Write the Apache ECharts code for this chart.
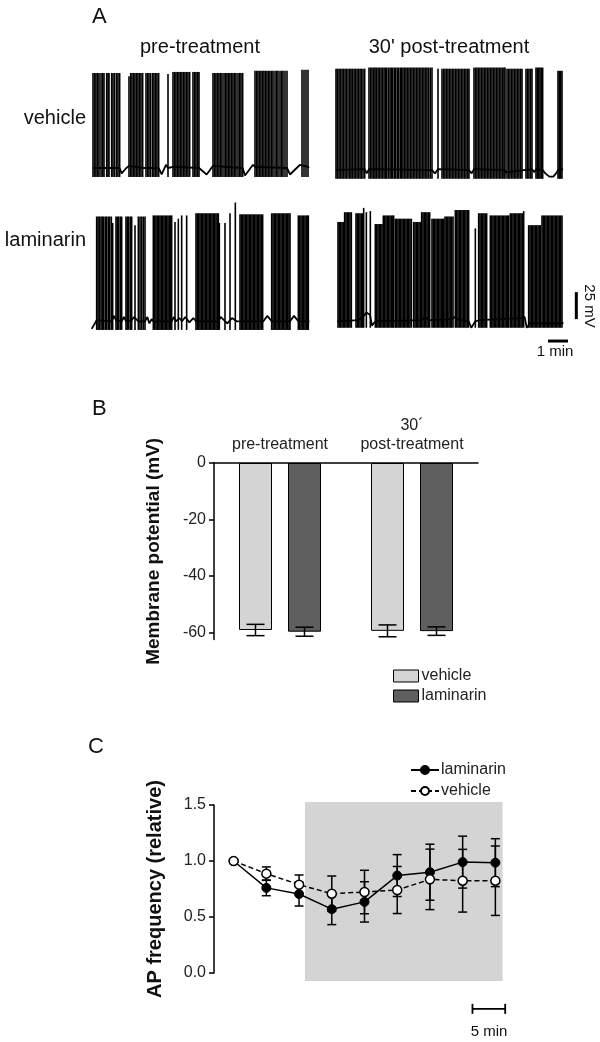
<!DOCTYPE html>
<html><head><meta charset="utf-8">
<script src="https://cdn.jsdelivr.net/npm/echarts@6/dist/echarts.min.js"></script>
<style>html,body{margin:0;padding:0;background:#fff}#c{width:600px;height:1042px}</style>
</head><body><div id="c"></div>
<script>
// ===== Panel A: spike times (s), grouped as [peak mV, [times]] ; baselines as [t s, mV] =====
const vehPreSpikes = [
  [38, [0,5,9,14,18,24,29,33,41,45,48,56,60,65,71,75,80]],
  [35, [108]],
  [38, [113,117,122,126,131,135,140,144,149,159,164,168,173,179,183,188,192,197]],
  [37, [225]],
  [39, [240,245,249,254,258,263,267,272,276,281,285,290,300,305,309,314,318]],
  [38, [360,365,369,374,378,383,387,393,398,402,407,411,416,420,425,429,435,440,444,449]],
  [40, [486,491,495,500,504,509,513,518,522,527,531,536,540,546,551,555,561,566,570,576,582]],
  [41, [627,633,639,645]]
];
const vehPreBaseline = [[0,-50],[80,-50],[86,-55],[100,-50],[108,-48],[150,-50],[197,-50],[206,-56],[219,-47],[225,-50],[240,-49],[318,-50],[341,-56],[360,-48],[449,-50],[456,-57],[480,-47],[486,-49],[582,-50],[591,-56],[621,-47],[645,-49],[648,-50]];

const vehPostSpikes = [
  [42, [0,4,9,13,18,22,27,31,36,41,45,49,54,58,63,67,72,76,81,86]],
  [43, [99,104,108,113,117,121,126,130,135,139,144,148,152,157,162,166,170,175,179,184,188,193,197,201,206,210,215,219,224,228,233,237,242,246,251,255,260,264,269,273,278,283,288]],
  [42, [306]],
  [42, [318,323,327,332,336,341,345,350,354,359,363,368,372,377,381,386,390,395,399]],
  [43, [414,419,423,428,432,437,441,446,450,455,459,464,468,473,477,482,486,491,495,500,504,507]],
  [42, [513,518,522,527,531,536,540,545,549,554,558,570,575,579,584,588]],
  [43, [600,604,608,612,616,620]],
  [40, [666,670,674,678]]
];
const vehPostBaseline = [[0,-52],[86,-51],[92,-55],[99,-51],[288,-52],[297,-55],[306,-51],[399,-52],[407,-55],[414,-51],[507,-52],[510,-54],[588,-51],[595,-54],[600,-51],[620,-52],[628,-55],[640,-58],[652,-58],[660,-55],[666,-52],[681,-51]];

const lamPreSpikes = [
  [31, [14,18,22,27,31,35,40,44,49,53,58]],
  [25, [62]],
  [31, [72,76,80,85,89]],
  [31, [102,106,110,115,119]],
  [23, [129]],
  [31, [139,144,149,154,159]],
  [32, [184,188,192,196,200,204,208,212,216,220,224,228,232,236,239]],
  [26, [249]], [29, [259]], [32, [269]], [32, [284]],
  [34, [312,316,320,324,328,332,336,340,344,348,352,356,360,364,368,372,376,379]],
  [25, [382]], [25, [399]], [34, [414]], [44, [430]],
  [33, [444,448,452,456,460,464,468,472,476,480,484,488,492,496,500,504,508,512]],
  [34, [539,543,547,551,555,559,563,567,571,575,579,583,587,591,594]],
  [32, [619,623,627,631,635,639,643,647,649]]
];
const lamPreBaseline = [[-1,-73],[14,-65],[59,-66],[66,-61],[72,-65],[89,-66],[96,-62],[102,-66],[119,-65],[126,-62],[139,-66],[159,-66],[166,-62],[172,-68],[179,-64],[184,-66],[239,-66],[246,-62],[252,-66],[262,-63],[270,-66],[280,-62],[292,-67],[304,-63],[312,-66],[379,-66],[386,-62],[396,-65],[406,-68],[420,-63],[434,-66],[444,-66],[514,-66],[526,-61],[539,-66],[594,-66],[606,-61],[619,-66],[652,-66]];

const lamPostSpikes = [
  [26, [0,4,8,12,16]],
  [35, [20,24,28,32,36,40]],
  [34, [54,58,62,66,70,74]],
  [39, [77]], [35, [85]], [36, [97]],
  [24, [112,116,120,124,128,132]],
  [32, [136,140,144,148,152,156,160,164,167]],
  [29, [172,176,180,184,188,192,196,200,204,208,212,216,220]],
  [26, [227,231,235,239,243,247]],
  [35, [251,255,259,263,267,271,275]],
  [29, [282,286,290,294,298,302,306,310,314,317]],
  [31, [321,325,329,333,337,341,345]],
  [37, [352,356,360,364,368,372,376,380,384,388,392]],
  [20, [412]],
  [34, [422,426,430,434,438,442,446]],
  [32, [457,461,465,469,473,477,481,485,489,493,497,501,505,509,512]],
  [34, [517,521,525,529,533,537,541,545,549,553]],
  [36, [557]],
  [23, [572,576,580,584,588,592,596,600,604,607]],
  [32, [612,616,620,624,628,632,636,640,644,648,652,656,660,664,668,672]]
];
const lamPostBaseline = [[-2,-66],[60,-65],[75,-62],[85,-58],[96,-60],[102,-70],[112,-66],[250,-65],[262,-62],[275,-65],[340,-64],[350,-62],[365,-65],[392,-66],[400,-72],[412,-66],[425,-65],[550,-63],[560,-62],[566,-72],[575,-68],[672,-68],[676,-67]];

// ===== Panel B =====
const bGroups = ['pre-treatment', '30\u00b4\npost-treatment'];
const bVehicle = [-59.1, -59.4];
const bVehicleErr = [2.0, 2.1];
const bLaminarin = [-59.7, -59.5];
const bLaminarinErr = [1.6, 1.5];

// ===== Panel C =====
const cTimes = [-10, -5, 0, 5, 10, 15, 20, 25, 30];   // min
const cLaminarin = [1.0, 0.76, 0.705, 0.57, 0.635, 0.87, 0.9, 0.99, 0.985];
const cLaminarinErr = [0, 0.07, 0.107, 0.138, 0.18, 0.187, 0.25, 0.232, 0.214];
const cVehicle = [1.0, 0.887, 0.789, 0.708, 0.723, 0.741, 0.836, 0.824, 0.824];
const cVehicleErr = [0, 0.06, 0.086, 0.158, 0.194, 0.21, 0.27, 0.28, 0.31];
const cTreatment = [0.9, 31.1];  // min, shaded window

// ===== build =====
const FONT = '"Liberation Sans", Arial, sans-serif';
const INK = '#111';

function flatSpikes(bursts){ const out=[]; bursts.forEach(([p, ts]) => ts.forEach(t => out.push([t, p]))); return out; }
function spikeSeries(idx, bursts, ahp){
  return { type:'custom', xAxisIndex:idx, yAxisIndex:idx, data: flatSpikes(bursts), encode:{x:0,y:1}, clip:false, silent:true,
    renderItem(params, api){
      const a = api.coord([api.value(0), ahp]), b = api.coord([api.value(0), api.value(1)]);
      return {type:'line', shape:{x1:a[0],y1:a[1],x2:b[0],y2:b[1]}, style:{stroke:'#000', lineWidth:1.6}};
    }};
}
function baseSeries(idx, data){
  return { type:'line', xAxisIndex:idx, yAxisIndex:idx, data, showSymbol:false, symbol:'none', silent:true,
    lineStyle:{color:'#000', width:1.8}, z:3 };
}
const hidden = (i, min, max) => ({gridIndex:i, type:'value', min, max, show:false});

const BAR_W = 33, BAR_GAP = 16;
function bErr(name, vals, errs, sign){
  return { type:'custom', name: name+'_err', xAxisIndex:4, yAxisIndex:4, z:5, silent:true,
    data: vals.map((v,i)=>[i, v, errs[i]]),
    renderItem(params, api){
      const i=api.value(0), v=api.value(1), e=api.value(2);
      const off = sign*(BAR_W+BAR_GAP)/2;
      const hi=api.coord([i, v+e]), lo=api.coord([i, v-e]);
      const x = hi[0]+off, cw=9;
      const st={stroke:'#000', lineWidth:1.5};
      return {type:'group', children:[
        {type:'line', shape:{x1:x,y1:hi[1],x2:x,y2:lo[1]}, style:st},
        {type:'line', shape:{x1:x-cw,y1:hi[1],x2:x+cw,y2:hi[1]}, style:st},
        {type:'line', shape:{x1:x-cw,y1:lo[1],x2:x+cw,y2:lo[1]}, style:st}
      ]};
    }};
}
function cErr(vals, errs){
  return { type:'custom', xAxisIndex:5, yAxisIndex:5, z:4, silent:true, clip:false,
    data: vals.map((v,i)=>[cTimes[i], v, errs[i]]),
    renderItem(params, api){
      const t=api.value(0), v=api.value(1), e=api.value(2);
      if (!e) return null;
      const hi=api.coord([t, v+e]), lo=api.coord([t, v-e]);
      const cw=4.5, st={stroke:'#000', lineWidth:1.5};
      return {type:'group', children:[
        {type:'line', shape:{x1:hi[0],y1:hi[1],x2:lo[0],y2:lo[1]}, style:st},
        {type:'line', shape:{x1:hi[0]-cw,y1:hi[1],x2:hi[0]+cw,y2:hi[1]}, style:st},
        {type:'line', shape:{x1:lo[0]-cw,y1:lo[1],x2:lo[0]+cw,y2:lo[1]}, style:st}
      ]};
    }};
}

const option = {
  animation:false,
  backgroundColor:'#fff',
  textStyle:{fontFamily:FONT},
  grid:[
    {left:93, top:60, width:220, height:135},
    {left:336, top:60, width:230, height:135},
    {left:92, top:196, width:220, height:140.4},
    {left:338, top:196, width:230, height:140.4},
    {left:214, top:463, width:264, height:176.6},
    {left:214, top:805, width:301, height:168}
  ],
  xAxis:[
    hidden(0,0,660), hidden(1,0,690), hidden(2,0,660), hidden(3,0,690),
    {gridIndex:4, type:'category', data:bGroups, position:'top',
      axisLine:{lineStyle:{color:'#000', width:1.5}}, axisTick:{show:false},
      axisLabel:{interval:0, fontSize:16, lineHeight:19, margin:9, color:'#222', fontFamily:FONT}},
    {gridIndex:5, type:'value', min:-13, max:33, show:false}
  ],
  yAxis:[
    hidden(0,-75,50), hidden(1,-75,50), hidden(2,-80,50), hidden(3,-80,50),
    {gridIndex:4, type:'value', min:-62.5, max:0,
      axisLine:{show:true, onZero:false, lineStyle:{color:'#000', width:1.5}},
      axisTick:{show:true, length:5, lineStyle:{color:'#000', width:1.5}, customValues:[0,-20,-40,-60]},
      axisLabel:{customValues:[0,-20,-40,-60], fontSize:16, color:'#222', margin:8, fontFamily:FONT},
      splitLine:{show:false},
      name:'Membrane potential (mV)', nameLocation:'middle', nameGap:51,
      nameTextStyle:{fontWeight:'bold', fontSize:19, color:INK, fontFamily:FONT}},
    {gridIndex:5, type:'value', min:0, max:1.5, interval:0.5,
      axisLine:{show:true, onZero:false, lineStyle:{color:'#000', width:1.5}},
      axisTick:{show:true, length:5, lineStyle:{color:'#000', width:1.5}},
      axisLabel:{fontSize:16, color:'#222', margin:8, fontFamily:FONT, formatter:v=>v.toFixed(1)},
      splitLine:{show:false},
      name:'AP frequency (relative)', nameLocation:'middle', nameGap:49,
      nameTextStyle:{fontWeight:'bold', fontSize:20, color:INK, fontFamily:FONT}}
  ],
  legend:[
    {data:['vehicle','laminarin'], left:388, top:663, orient:'vertical', icon:'rect',
      itemWidth:25, itemHeight:12, itemGap:4, selectedMode:false,
      itemStyle:{borderColor:'#000', borderWidth:1},
      textStyle:{fontSize:16, color:'#222', fontFamily:FONT, padding:[0,0,0,-2]}},
    {data:['laminarin ','vehicle '], left:405, top:757, orient:'vertical',
      itemWidth:28, itemHeight:10, itemGap:5, selectedMode:false,
      textStyle:{fontSize:16, color:'#222', fontFamily:FONT, padding:[0,0,0,-3]}}
  ],
  series:[
    baseSeries(0, vehPreBaseline), spikeSeries(0, vehPreSpikes, -58.3),
    baseSeries(1, vehPostBaseline), spikeSeries(1, vehPostSpikes, -60),
    baseSeries(2, lamPreBaseline), spikeSeries(2, lamPreSpikes, -74),
    baseSeries(3, lamPostBaseline), spikeSeries(3, lamPostSpikes, -72),
    // scale bars (1 min, 25 mV) in the laminarin post-treatment trace's coordinates
    { type:'custom', xAxisIndex:3, yAxisIndex:3, clip:false, silent:true, data:[[630, -84.3]],
      renderItem(params, api){
        const t=api.value(0), v=api.value(1);
        const a=api.coord([t, v]), b=api.coord([t+60, v]);
        const c=api.coord([715, -39]), d=api.coord([715, -39-25]);
        const st={stroke:'#000', lineWidth:3};
        return {type:'group', children:[
          {type:'line', shape:{x1:a[0],y1:a[1],x2:b[0],y2:b[1]}, style:st},
          {type:'line', shape:{x1:c[0],y1:c[1],x2:d[0],y2:d[1]}, style:st}
        ]};
      }},
    // Panel B bars
    { type:'bar', name:'vehicle', xAxisIndex:4, yAxisIndex:4, data:bVehicle, barWidth:BAR_W, barGap:(BAR_GAP/BAR_W*100)+'%',
      itemStyle:{color:'#d4d4d4', borderColor:'#000', borderWidth:1}, silent:true },
    { type:'bar', name:'laminarin', xAxisIndex:4, yAxisIndex:4, data:bLaminarin, barWidth:BAR_W,
      itemStyle:{color:'#5f5f5f', borderColor:'#000', borderWidth:1}, silent:true },
    bErr('vehicle', bVehicle, bVehicleErr, -1),
    bErr('laminarin', bLaminarin, bLaminarinErr, 1),
    // Panel C: treatment window
    { type:'custom', xAxisIndex:5, yAxisIndex:5, clip:false, silent:true, z:1, data:[cTreatment],
      renderItem(params, api){
        const a=api.coord([api.value(0), 1.527]), b=api.coord([api.value(1), -0.071]);
        return {type:'rect', shape:{x:a[0], y:a[1], width:b[0]-a[0], height:b[1]-a[1]}, style:{fill:'#d4d4d4'}};
      }},
    // 5 min scale bar
    { type:'custom', xAxisIndex:5, yAxisIndex:5, clip:false, silent:true, data:[[26.5, -0.32]],
      renderItem(params, api){
        const t=api.value(0), v=api.value(1);
        const a=api.coord([t, v]), b=api.coord([t+5, v]);
        const st={stroke:'#000', lineWidth:1.8};
        return {type:'group', children:[
          {type:'line', shape:{x1:a[0],y1:a[1],x2:b[0],y2:b[1]}, style:st},
          {type:'line', shape:{x1:a[0],y1:a[1]-5,x2:a[0],y2:a[1]+5}, style:st},
          {type:'line', shape:{x1:b[0],y1:b[1]-5,x2:b[0],y2:b[1]+5}, style:st}
        ]};
      }},
    cErr(cLaminarin, cLaminarinErr),
    cErr(cVehicle, cVehicleErr),
    { type:'line', name:'laminarin ', xAxisIndex:5, yAxisIndex:5, z:6, silent:true,
      data: cTimes.map((t,i)=>[t, cLaminarin[i]]),
      symbol:'circle', symbolSize:9, lineStyle:{color:'#000', width:1.5},
      itemStyle:{color:'#000', borderColor:'#000', borderWidth:1} },
    { type:'line', name:'vehicle ', xAxisIndex:5, yAxisIndex:5, z:7, silent:true,
      data: cTimes.map((t,i)=>[t, cVehicle[i]]),
      symbol:'circle', symbolSize:9, lineStyle:{color:'#000', width:1.5, type:[5,3]},
      itemStyle:{color:'#fff', borderColor:'#000', borderWidth:1.5} }
  ],
  graphic:[
    {type:'text', x:92, y:6, style:{text:'A', font:'22px '+FONT, fill:INK}},
    {type:'text', x:200, y:47, style:{text:'pre-treatment', font:'20px '+FONT, fill:INK, align:'center', verticalAlign:'middle'}},
    {type:'text', x:449, y:47, style:{text:"30' post-treatment", font:'20px '+FONT, fill:INK, align:'center', verticalAlign:'middle'}},
    {type:'text', x:86, y:118, style:{text:'vehicle', font:'20px '+FONT, fill:INK, align:'right', verticalAlign:'middle'}},
    {type:'text', x:86, y:240, style:{text:'laminarin', font:'20px '+FONT, fill:INK, align:'right', verticalAlign:'middle'}},
    {type:'text', x:555, y:352, style:{text:'1 min', font:'15px '+FONT, fill:INK, align:'center', verticalAlign:'middle'}},
    {type:'text', x:589, y:306, rotation:-Math.PI/2, style:{text:'25 mV', font:'15px '+FONT, fill:INK, align:'center', verticalAlign:'middle'}},
    {type:'text', x:92, y:398, style:{text:'B', font:'22px '+FONT, fill:INK}},
    {type:'text', x:88, y:736, style:{text:'C', font:'22px '+FONT, fill:INK}},
    {type:'text', x:489, y:1032, style:{text:'5 min', font:'15px '+FONT, fill:INK, align:'center', verticalAlign:'middle'}}
  ]
};
const chart = echarts.init(document.getElementById('c'), null, {renderer:'canvas'});
chart.setOption(option);
</script></body></html>
